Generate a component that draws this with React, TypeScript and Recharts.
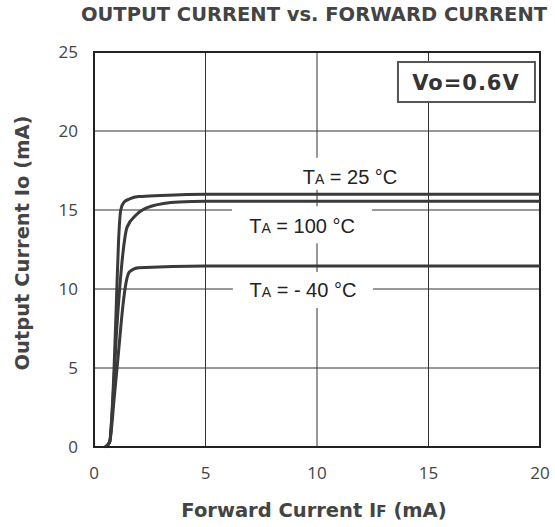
import React from 'react';
import { LineChart, Line, XAxis, YAxis, CartesianGrid, ReferenceDot, ReferenceArea } from 'recharts';

const xTicks = [0, 5, 10, 15, 20];
const yTicks = [0, 5, 10, 15, 20, 25];

const curve25 = [
  { x: 0.5, y: 0 }, { x: 0.7, y: 0.3 }, { x: 0.8, y: 2 }, { x: 0.9, y: 5 }, { x: 1.0, y: 9 },
  { x: 1.1, y: 13 }, { x: 1.2, y: 15 }, { x: 1.35, y: 15.5 }, { x: 1.6, y: 15.7 }, { x: 2, y: 15.85 },
  { x: 3, y: 15.92 }, { x: 5, y: 16.0 }, { x: 20, y: 16.0 },
];
const curve100 = [
  { x: 0.5, y: 0 }, { x: 0.7, y: 0.3 }, { x: 0.85, y: 3 }, { x: 1.0, y: 7 }, { x: 1.15, y: 10 },
  { x: 1.3, y: 12.3 }, { x: 1.48, y: 13.9 }, { x: 1.9, y: 14.7 }, { x: 2.6, y: 15.25 }, { x: 3.8, y: 15.5 },
  { x: 5, y: 15.55 }, { x: 20, y: 15.55 },
];
const curveM40 = [
  { x: 0.5, y: 0 }, { x: 0.7, y: 0.3 }, { x: 0.9, y: 3 }, { x: 1.1, y: 6 }, { x: 1.3, y: 9 },
  { x: 1.45, y: 10.5 }, { x: 1.6, y: 11.1 }, { x: 2, y: 11.35 }, { x: 5, y: 11.45 }, { x: 20, y: 11.45 },
];

const labels = [
  { x: 11.48, y: 17.1, temp: '25', w: 140, h: 32, dy: -3 },
  { x: 9.33, y: 14.0, temp: '100', w: 140, h: 37, dy: -1 },
  { x: 9.37, y: 9.94, temp: '- 40', w: 140, h: 36, dy: 0 },
];

const LINE = '#3a3a3a';
const TXT = '#444';
const BOLD = 'DejaVu Sans';

const TempLabel = (temp: string, w: number, h: number, dy: number) => (props: any) => {
  const { cx, cy } = props;
  return (
    <g>
      <rect x={cx - w / 2} y={cy + dy - h / 2} width={w} height={h} fill="#fff" />
      <text x={cx} y={cy + 7} textAnchor="middle" fontFamily="Liberation Sans" fontSize={20} fill="#222">
        <tspan>T</tspan>
        <tspan fontSize={14}>A</tspan>
        <tspan>{` = ${temp} °C`}</tspan>
      </text>
    </g>
  );
};

const VoBox = (props: any) => {
  const { cx, cy } = props;
  return (
    <g>
      <rect x={cx - 68} y={cy - 20} width={137} height={40} fill="#fff" stroke="#555" strokeWidth={2} />
      <text x={cx} y={cy + 8} textAnchor="middle" fontFamily={BOLD} fontWeight="bold" fontSize={21} fill="#333" letterSpacing={1}>
        Vo=0.6V
      </text>
    </g>
  );
};

export default function App() {
  return (
    <div style={{ position: 'absolute', left: 0, top: 0, width: 555, height: 527, background: '#fff' }}>
      <div style={{ position: 'absolute', left: 0, top: 3, width: 628, textAlign: 'center', fontFamily: BOLD, fontWeight: 'bold', fontSize: 19.5, color: TXT, whiteSpace: 'nowrap' }}>
        OUTPUT CURRENT vs. FORWARD CURRENT
      </div>
      <LineChart width={555} height={527} margin={{ top: 52, right: 15, bottom: 20, left: 34 }}>
        <CartesianGrid stroke="#333" strokeWidth={1} />
        <XAxis type="number" dataKey="x" domain={[0, 20]} ticks={xTicks} tickSize={0} tickMargin={20} height={60}
          axisLine={{ stroke: '#222', strokeWidth: 2 }} tick={{ fill: TXT, fontSize: 17, fontFamily: 'Open Sans' }} allowDataOverflow />
        <YAxis type="number" domain={[0, 25]} ticks={yTicks} tickSize={0} tickMargin={16} width={60}
          axisLine={{ stroke: '#222', strokeWidth: 2 }} tick={{ fill: TXT, fontSize: 17, fontFamily: 'Open Sans' }} />
        <ReferenceArea x1={0} x2={20} y1={0} y2={25} fill="none" stroke="#222" strokeWidth={2} />
        {labels.map((l) => (
          <ReferenceDot key={l.temp} x={l.x} y={l.y} r={1} shape={TempLabel(l.temp, l.w, l.h, l.dy)} />
        ))}
        <ReferenceDot x={16.68} y={23.1} r={1} shape={VoBox} />
        <Line data={curve25} dataKey="y" type="monotone" stroke={LINE} strokeWidth={3} dot={false} isAnimationActive={false} />
        <Line data={curve100} dataKey="y" type="monotone" stroke={LINE} strokeWidth={3} dot={false} isAnimationActive={false} />
        <Line data={curveM40} dataKey="y" type="monotone" stroke={LINE} strokeWidth={3} dot={false} isAnimationActive={false} />
      </LineChart>
      <div style={{ position: 'absolute', left: 0, top: 499, width: 628, textAlign: 'center', fontFamily: BOLD, fontWeight: 'bold', fontSize: 19.5, color: TXT, whiteSpace: 'nowrap' }}>
        Forward Current I<span style={{ fontSize: 15 }}>F</span> (mA)
      </div>
      <div style={{ position: 'absolute', left: 22, top: 243, width: 0, height: 0 }}>
        <div style={{ position: 'absolute', left: 0, top: 0, transform: 'translate(-50%, -50%) rotate(-90deg)', fontFamily: BOLD, fontWeight: 'bold', fontSize: 19.5, color: TXT, whiteSpace: 'nowrap' }}>
          Output Current Io (mA)
        </div>
      </div>
    </div>
  );
}
